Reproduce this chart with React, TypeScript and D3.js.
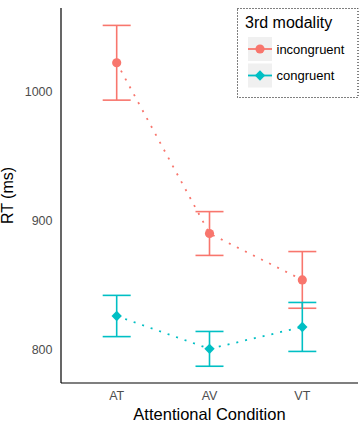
import React from "react";
import * as d3 from "d3";

const conditions = ["AT", "AV", "VT"];
const seriesNames = ["incongruent", "congruent"];
const incongruentMeans = [1022.5, 890, 854];
const incongruentErrors = [29, 17, 22];
const congruentMeans = [826, 800.5, 817.5];
const congruentErrors = [16, 13.5, 19];
const yTicks = [800, 900, 1000];

const colors = ["#F8766D", "#00BFC4"];
const FONT = "'Liberation Sans', Arial, Helvetica, sans-serif";

const W = 362;
const H = 424;
const margin = { top: 8, right: 4, bottom: 41, left: 61 };

const series = [
  { name: seriesNames[0], means: incongruentMeans, errs: incongruentErrors, shape: "circle" },
  { name: seriesNames[1], means: congruentMeans, errs: congruentErrors, shape: "diamond" },
];

const circlePath = d3.symbol(d3.symbolCircle, 66)();
const diamondPath = "M0,-5.2L5.2,0L0,5.2L-5.2,0Z";

export default function App() {
  const x = d3
    .scalePoint<string>()
    .domain(conditions)
    .range([margin.left, W - margin.right])
    .padding(0.6);
  const y = d3
    .scaleLinear()
    .domain([774, 1065])
    .range([H - margin.bottom, margin.top]);

  const line = d3
    .line<number>()
    .x((_, i) => x(conditions[i]) as number)
    .y((d) => y(d));

  const capHalf = 14;

  return (
    <svg
      width={W}
      height={H}
      style={{ position: "absolute", left: 0, top: 0, background: "#fff" }}
      fontFamily={FONT}
    >
      {/* axes */}
      <line x1={margin.left} x2={margin.left} y1={margin.top} y2={H - margin.bottom} stroke="#000" strokeWidth={1.2} />
      <line x1={margin.left} x2={W - margin.right} y1={H - margin.bottom} y2={H - margin.bottom} stroke="#000" strokeWidth={1.2} />
      {yTicks.map((t) => (
        <text key={t} x={margin.left - 8.5} y={y(t)} dy="0.35em" textAnchor="end" fontSize={12.5} fill="#4d4d4d">
          {t}
        </text>
      ))}
      {conditions.map((c) => (
        <text key={c} x={x(c)} y={400} textAnchor="middle" fontSize={12.5} fill="#4d4d4d">
          {c}
        </text>
      ))}
      <text x={(margin.left + W - margin.right) / 2} y={420} textAnchor="middle" fontSize={16.5} fill="#000">
        Attentional Condition
      </text>
      <text
        transform={`translate(12.5,${(margin.top + H - margin.bottom) / 2}) rotate(-90)`}
        textAnchor="middle"
        fontSize={16}
        fill="#000"
      >
        RT (ms)
      </text>

      {/* series */}
      {series.map((s, si) => (
        <g key={s.name}>
          <path d={line(s.means) || ""} fill="none" stroke={colors[si]} strokeWidth={1.8} strokeDasharray="2 7" />
          {s.means.map((m, i) => {
            const cx = x(conditions[i]) as number;
            const lo = y(m - s.errs[i]);
            const hi = y(m + s.errs[i]);
            return (
              <g key={i} stroke={colors[si]} strokeWidth={1.6}>
                <line x1={cx} x2={cx} y1={lo} y2={hi} />
                <line x1={cx - capHalf} x2={cx + capHalf} y1={lo} y2={lo} />
                <line x1={cx - capHalf} x2={cx + capHalf} y1={hi} y2={hi} />
                <path
                  d={s.shape === "circle" ? circlePath : diamondPath}
                  transform={`translate(${cx},${y(m)})`}
                  fill={colors[si]}
                  stroke="none"
                />
              </g>
            );
          })}
        </g>
      ))}

      {/* legend */}
      <g>
        <rect x={237.5} y={8.5} width={120.5} height={89} fill="#fff" stroke="#000" strokeWidth={1} strokeDasharray="1 2" />
        <text x={245} y={28} fontSize={16} fill="#000">
          3rd modality
        </text>
        {series.map((s, si) => {
          const ky = 37 + si * 26.5;
          return (
            <g key={s.name}>
              <rect x={248} y={ky} width={24} height={24} fill="#F0F0F0" />
              <line x1={248} x2={272} y1={ky + 12} y2={ky + 12} stroke={colors[si]} strokeWidth={1.8} />
              <path
                d={s.shape === "circle" ? circlePath : diamondPath}
                transform={`translate(260,${ky + 12})`}
                fill={colors[si]}
              />
              <text x={276.5} y={ky + 16.8} fontSize={13} fill="#000">
                {s.name}
              </text>
            </g>
          );
        })}
      </g>
    </svg>
  );
}
